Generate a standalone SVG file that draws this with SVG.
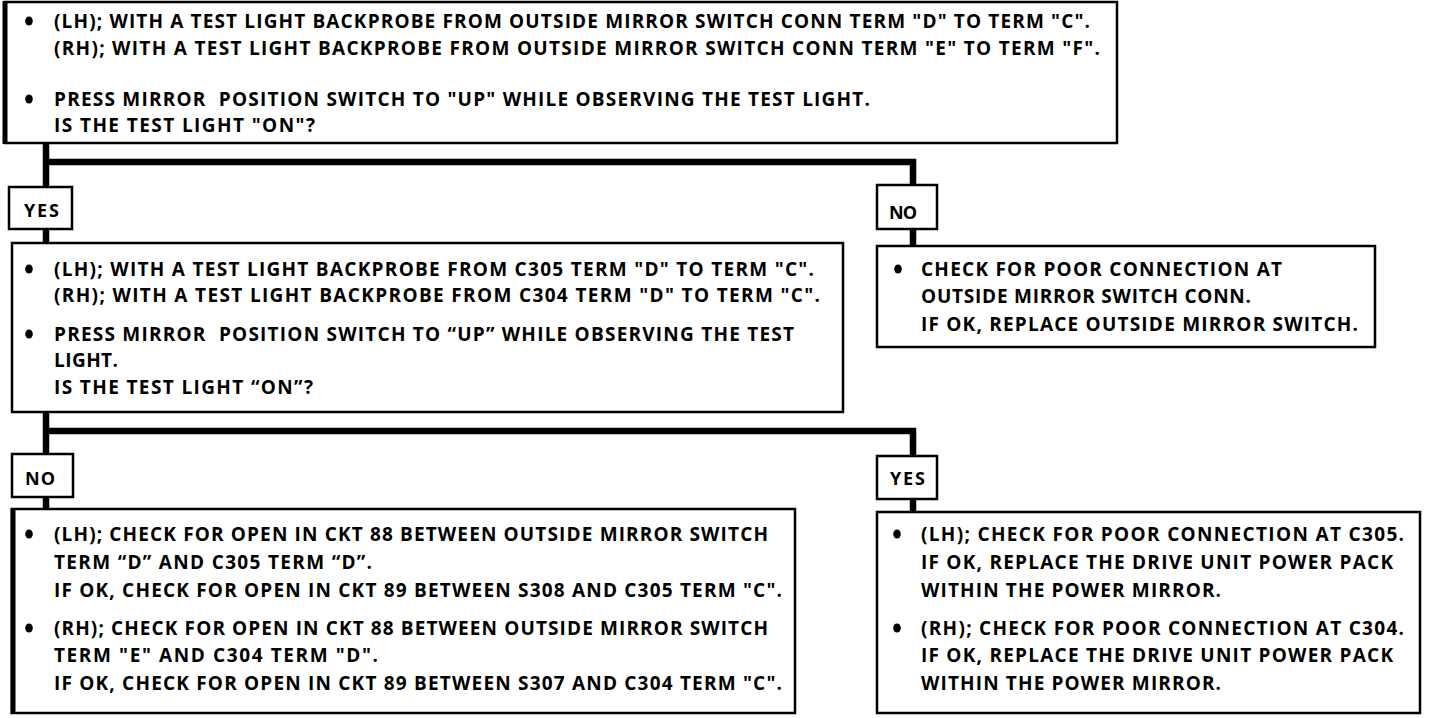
<svg xmlns="http://www.w3.org/2000/svg" width="1440" height="718" viewBox="0 0 1440 718">
<style>
.bg{fill:#fff}
.box{fill:#fff;stroke:#000;stroke-width:2.5}
.edge{fill:none;stroke:#000;stroke-width:5}
.conn{fill:none;stroke:#000;stroke-width:6.5;stroke-linejoin:miter;stroke-linecap:butt}
text{font-family:"Open Sans","Noto Sans","Liberation Sans",sans-serif;font-weight:700;font-size:19px;fill:#000}
.lbl{font-size:18px}
.dot{fill:#000}
</style>
<rect class="bg" x="0" y="0" width="1440" height="718"/>

<g id="connectors">
<path class="conn" d="M46,142 V187"/>
<path class="conn" d="M46,162 H913 V185"/>
<path class="conn" d="M46,229 V243"/>
<path class="conn" d="M913,229 V246"/>
<path class="conn" d="M46,412 V454"/>
<path class="conn" d="M46,431 H913 V456"/>
<path class="conn" d="M46,497 V509"/>
<path class="conn" d="M913,499 V512"/>
</g>

<g id="q1">
<rect class="box" x="5" y="2" width="1112" height="141"/>
<path class="edge" d="M5,1 V144"/>
<ellipse class="dot" cx="29" cy="21" rx="3.8" ry="4.5"/>
<text x="54" y="28" textLength="1036">(LH); WITH A TEST LIGHT BACKPROBE FROM OUTSIDE MIRROR SWITCH CONN TERM "D" TO TERM "C".</text>
<text x="54" y="55" textLength="1046">(RH); WITH A TEST LIGHT BACKPROBE FROM OUTSIDE MIRROR SWITCH CONN TERM "E" TO TERM "F".</text>
<ellipse class="dot" cx="29" cy="99" rx="3.8" ry="4.5"/>
<text x="54" y="106" textLength="816">PRESS MIRROR&#160; POSITION SWITCH TO "UP" WHILE OBSERVING THE TEST LIGHT.</text>
<text x="54" y="132" textLength="261">IS THE TEST LIGHT "ON"?</text>
</g>

<g id="yes1">
<rect class="box" x="9" y="187" width="63" height="42"/>
<text class="lbl" x="24" y="217" textLength="35">YES</text>
</g>

<g id="no1">
<rect class="box" x="877" y="185" width="60" height="44"/>
<text class="lbl" x="889" y="219" textLength="28">NO</text>
</g>

<g id="q2">
<rect class="box" x="12" y="243" width="831" height="169"/>
<ellipse class="dot" cx="29" cy="269" rx="3.8" ry="4.5"/>
<text x="54" y="276" textLength="760">(LH); WITH A TEST LIGHT BACKPROBE FROM C305 TERM "D" TO TERM "C".</text>
<text x="54" y="302" textLength="766">(RH); WITH A TEST LIGHT BACKPROBE FROM C304 TERM "D" TO TERM "C".</text>
<ellipse class="dot" cx="29" cy="334" rx="3.8" ry="4.5"/>
<text x="54" y="341" textLength="740">PRESS MIRROR&#160; POSITION SWITCH TO “UP” WHILE OBSERVING THE TEST</text>
<text x="54" y="367" textLength="64">LIGHT.</text>
<text x="54" y="394" textLength="259">IS THE TEST LIGHT “ON”?</text>
</g>

<g id="r1">
<rect class="box" x="877" y="246" width="498" height="101"/>
<ellipse class="dot" cx="898" cy="269" rx="3.8" ry="4.5"/>
<text x="921" y="276" textLength="361">CHECK FOR POOR CONNECTION AT</text>
<text x="921" y="303" textLength="330">OUTSIDE MIRROR SWITCH CONN.</text>
<text x="921" y="331" textLength="437">IF OK, REPLACE OUTSIDE MIRROR SWITCH.</text>
</g>

<g id="no2">
<rect class="box" x="12" y="454" width="61" height="43"/>
<text class="lbl" x="25" y="485" textLength="30">NO</text>
</g>

<g id="yes2">
<rect class="box" x="877" y="456" width="60" height="43"/>
<text class="lbl" x="890" y="485" textLength="35">YES</text>
</g>

<g id="r2">
<rect class="box" x="12" y="509" width="783" height="204"/>
<path class="edge" d="M13,508 V714"/>
<ellipse class="dot" cx="29" cy="534" rx="3.8" ry="4.5"/>
<text x="54" y="541" textLength="714">(LH); CHECK FOR OPEN IN CKT 88 BETWEEN OUTSIDE MIRROR SWITCH</text>
<text x="54" y="569" textLength="318">TERM “D” AND C305 TERM “D”.</text>
<text x="54" y="597" textLength="728">IF OK, CHECK FOR OPEN IN CKT 89 BETWEEN S308 AND C305 TERM "C".</text>
<ellipse class="dot" cx="29" cy="628" rx="3.8" ry="4.5"/>
<text x="54" y="635" textLength="714">(RH); CHECK FOR OPEN IN CKT 88 BETWEEN OUTSIDE MIRROR SWITCH</text>
<text x="54" y="662" textLength="324">TERM "E" AND C304 TERM "D".</text>
<text x="54" y="690" textLength="728">IF OK, CHECK FOR OPEN IN CKT 89 BETWEEN S307 AND C304 TERM "C".</text>
</g>

<g id="r3">
<rect class="box" x="877" y="512" width="543" height="201"/>
<ellipse class="dot" cx="897" cy="534" rx="3.8" ry="4.5"/>
<text x="921" y="541" textLength="483">(LH); CHECK FOR POOR CONNECTION AT C305.</text>
<text x="921" y="569" textLength="472">IF OK, REPLACE THE DRIVE UNIT POWER PACK</text>
<text x="921" y="597" textLength="300">WITHIN THE POWER MIRROR.</text>
<ellipse class="dot" cx="897" cy="628" rx="3.8" ry="4.5"/>
<text x="921" y="635" textLength="483">(RH); CHECK FOR POOR CONNECTION AT C304.</text>
<text x="921" y="662" textLength="472">IF OK, REPLACE THE DRIVE UNIT POWER PACK</text>
<text x="921" y="690" textLength="300">WITHIN THE POWER MIRROR.</text>
</g>
</svg>
